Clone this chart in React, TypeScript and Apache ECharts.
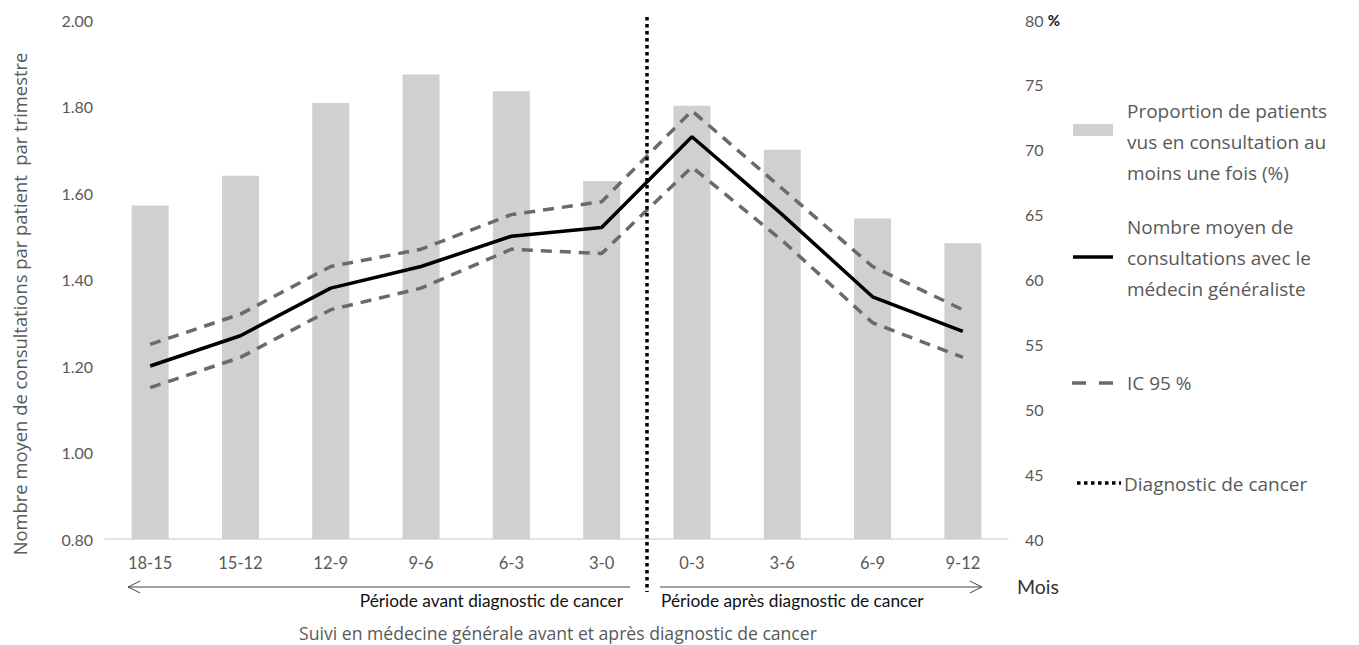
import React, { useEffect, useRef } from "react";
import * as echarts from "echarts";

const categories = ["18-15", "15-12", "12-9", "9-6", "6-3", "3-0", "0-3", "3-6", "6-9", "9-12"];
const proportionVus = [65.7, 68.0, 73.6, 75.8, 74.5, 67.6, 73.4, 70.0, 64.7, 62.8];
const nombreMoyen = [1.2, 1.27, 1.38, 1.43, 1.5, 1.52, 1.73, 1.55, 1.36, 1.28];
const icHaut = [1.25, 1.32, 1.43, 1.47, 1.55, 1.58, 1.79, 1.61, 1.43, 1.33];
const icBas = [1.15, 1.22, 1.33, 1.38, 1.47, 1.46, 1.66, 1.49, 1.3, 1.22];
const leftAxis = { min: 0.8, max: 2.0, interval: 0.2 };
const rightAxis = { min: 40, max: 80, interval: 5 };

const legendBar = "Proportion de patients\nvus en consultation au\nmoins une fois (%)";
const legendMean = "Nombre moyen de\nconsultations avec le\nmédecin généraliste";
const legendIC = "IC 95 %";
const legendDiag = "Diagnostic de cancer";
const yTitle = "Nombre moyen de consultations par patient  par trimestre";
const xTitle = "Suivi en médecine générale avant et après diagnostic de cancer";
const avantLabel = "Période avant diagnostic de cancer";
const apresLabel = "Période après diagnostic de cancer";
const moisLabel = "Mois";

const GRAY = "#595959";
const BAR = "#d0d0d0";
const DASH = "#6a6a6a";
const SANS = "'Open Sans', 'Noto Sans', sans-serif";
const CAL = "Lato, 'Noto Sans', sans-serif";

export default function App() {
  const ref = useRef<HTMLDivElement>(null);
  useEffect(() => {
    if (!ref.current) return;
    const chart = echarts.init(ref.current, null, { renderer: "svg" });
    const option: any = {
      animation: false,
      backgroundColor: "#ffffff",
      grid: { left: 105, right: 351, top: 20, bottom: 106 },
      xAxis: {
        type: "category",
        data: categories,
        axisLine: { lineStyle: { color: "#d9d9d9", width: 1.5 } },
        axisTick: { show: false },
        axisLabel: { color: GRAY, fontSize: 16.5, fontFamily: CAL, margin: 15 },
      },
      yAxis: [
        {
          type: "value",
          min: leftAxis.min,
          max: leftAxis.max,
          interval: leftAxis.interval,
          splitLine: { show: false },
          axisLine: { show: false },
          axisTick: { show: false },
          axisLabel: {
            color: GRAY,
            fontSize: 16,
            fontFamily: CAL,
            margin: 12,
            formatter: (v: number) => v.toFixed(2),
          },
        },
        {
          type: "value",
          min: rightAxis.min,
          max: rightAxis.max,
          interval: rightAxis.interval,
          position: "right",
          splitLine: { show: false },
          axisLine: { show: false },
          axisTick: { show: false },
          axisLabel: {
            color: GRAY,
            fontSize: 16,
            fontFamily: CAL,
            margin: 17,
            formatter: (v: number) => (v === rightAxis.max ? `${v} {p|%}` : `${v}`),
            rich: { p: { color: "#111", fontSize: 15, fontFamily: CAL, fontWeight: "bold" } },
          },
        },
      ],
      series: [
        {
          name: "Proportion",
          type: "bar",
          yAxisIndex: 1,
          data: proportionVus,
          barWidth: 37,
          itemStyle: { color: BAR },
          z: 1,
        },
        {
          name: "IC haut",
          type: "line",
          data: icHaut,
          symbol: "none",
          lineStyle: { color: DASH, width: 3.5, type: [11, 8] },
          z: 3,
        },
        {
          name: "IC bas",
          type: "line",
          data: icBas,
          symbol: "none",
          lineStyle: { color: DASH, width: 3.5, type: [11, 8] },
          z: 3,
        },
        {
          name: "Moyenne",
          type: "line",
          data: nombreMoyen,
          symbol: "none",
          lineStyle: { color: "#000", width: 3.5 },
          z: 4,
        },
      ],
    };
    chart.setOption(option);

    const x1 = chart.convertToPixel({ xAxisIndex: 0 }, categories[5]) as number;
    const x2 = chart.convertToPixel({ xAxisIndex: 0 }, categories[6]) as number;
    const xDiag = Math.round((x1 + x2) / 2);
    const xFirst = chart.convertToPixel({ xAxisIndex: 0 }, categories[0]) as number;
    const xLast = chart.convertToPixel({ xAxisIndex: 0 }, categories[categories.length - 1]) as number;
    const yArrow = 587;

    const legendText = (text: string, x: number, y: number) => ({
      type: "text",
      style: {
        text,
        x,
        y,
        fill: GRAY,
        font: `19px ${SANS}`,
        lineHeight: 31,
        textVerticalAlign: "middle",
      },
    });

    chart.setOption({
      graphic: [
        {
          type: "text",
          x: 19,
          y: 304,
          rotation: Math.PI / 2,
          style: {
            text: yTitle,
            x: 0,
            y: 0,
            fill: GRAY,
            font: `18.4px ${SANS}`,
            textAlign: "center",
            textVerticalAlign: "middle",
          },
        },
        {
          type: "line",
          shape: { x1: xDiag, y1: 17, x2: xDiag, y2: 592 },
          style: { stroke: "#000", lineWidth: 3.5, lineDash: [3.5, 3.5] },
          z: 10,
        },
        // arrows
        {
          type: "line",
          shape: { x1: xFirst - 22, y1: yArrow, x2: xDiag - 17, y2: yArrow },
          style: { stroke: "#444", lineWidth: 1 },
        },
        {
          type: "polyline",
          shape: { points: [[xFirst - 10, yArrow - 6], [xFirst - 22, yArrow], [xFirst - 10, yArrow + 6]] },
          style: { stroke: "#444", lineWidth: 1, fill: "none" },
        },
        {
          type: "line",
          shape: { x1: xDiag + 13, y1: yArrow, x2: xLast + 19, y2: yArrow },
          style: { stroke: "#444", lineWidth: 1 },
        },
        {
          type: "polyline",
          shape: { points: [[xLast + 7, yArrow - 6], [xLast + 19, yArrow], [xLast + 7, yArrow + 6]] },
          style: { stroke: "#444", lineWidth: 1, fill: "none" },
        },
        {
          type: "text",
          style: {
            text: avantLabel,
            x: xDiag - 24,
            y: 600,
            fill: "#111",
            font: `17.3px ${CAL}`,
            textAlign: "right",
            textVerticalAlign: "middle",
          },
        },
        {
          type: "text",
          style: {
            text: apresLabel,
            x: xDiag + 14,
            y: 600,
            fill: "#111",
            font: `17.3px ${CAL}`,
            textAlign: "left",
            textVerticalAlign: "middle",
          },
        },
        {
          type: "text",
          style: {
            text: xTitle,
            x: 558,
            y: 633,
            fill: GRAY,
            font: `17.6px ${SANS}`,
            textAlign: "center",
            textVerticalAlign: "middle",
          },
        },
        {
          type: "text",
          style: {
            text: moisLabel,
            x: 1017,
            y: 586,
            fill: "#333",
            font: `19.5px ${CAL}`,
            textAlign: "left",
            textVerticalAlign: "middle",
          },
        },
        // legend
        { type: "rect", shape: { x: 1073, y: 124, width: 40, height: 12 }, style: { fill: BAR } },
        legendText(legendBar, 1127, 142),
        {
          type: "line",
          shape: { x1: 1073, y1: 257, x2: 1113, y2: 257 },
          style: { stroke: "#000", lineWidth: 3.5 },
        },
        legendText(legendMean, 1127, 258),
        {
          type: "line",
          shape: { x1: 1072, y1: 383, x2: 1115, y2: 383 },
          style: { stroke: DASH, lineWidth: 3.5, lineDash: [14, 13] },
        },
        legendText(legendIC, 1127, 383),
        {
          type: "line",
          shape: { x1: 1077, y1: 483, x2: 1121, y2: 483 },
          style: { stroke: "#000", lineWidth: 3.5, lineDash: [3.5, 3.5] },
        },
        legendText(legendDiag, 1124, 484),
      ],
    });

    return () => chart.dispose();
  }, []);
  return (
    <div
      ref={ref}
      style={{ position: "fixed", left: 0, top: 0, width: "1359px", height: "645px", background: "#fff" }}
    />
  );
}
